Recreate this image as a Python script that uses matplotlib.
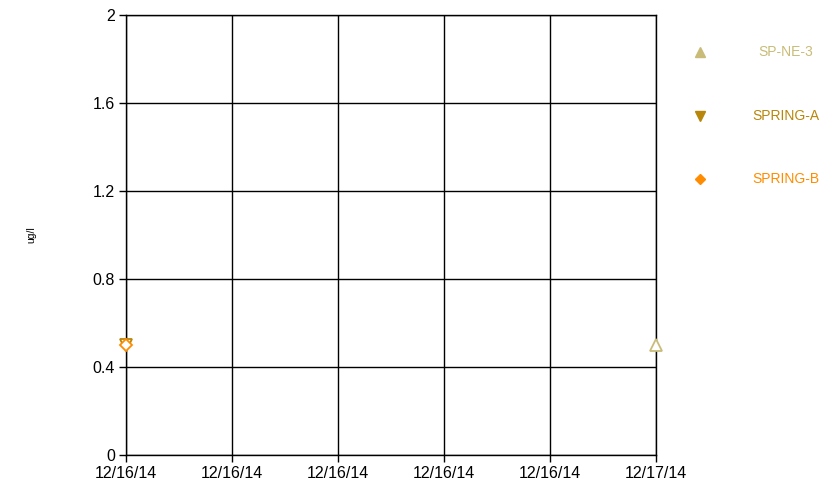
import matplotlib.pyplot as plt
from matplotlib.lines import Line2D

# Data (x = days after 12/16/14)
series_names = ["SP-NE-3", "SPRING-A", "SPRING-B"]
series_x = [[1.0], [0.0], [0.0]]
series_y = [[0.5], [0.5], [0.5]]
series_markers = ["^", "v", "D"]
series_colors = ["#C8BC78", "#B8860B", "#FF8C00"]
series_sizes = [8, 8, 6]

x_ticks = [0.0, 0.2, 0.4, 0.6, 0.8, 1.0]
x_tick_labels = ["12/16/14", "12/16/14", "12/16/14", "12/16/14", "12/16/14", "12/17/14"]
y_ticks = [0, 0.4, 0.8, 1.2, 1.6, 2.0]
y_tick_labels = ["0", "0.4", "0.8", "1.2", "1.6", "2"]

plt.rcParams["font.family"] = ["Liberation Sans", "DejaVu Sans"]

fig = plt.figure(figsize=(8.23, 4.86), dpi=100)
ax = fig.add_axes([126 / 823, 1 - 455 / 486, 530 / 823, 440 / 486])

for name, xs, ys, m, c, s in zip(series_names, series_x, series_y,
                                 series_markers, series_colors, series_sizes):
    ax.plot(xs, ys, linestyle="none", marker=m, markersize=s,
            markerfacecolor="white", markeredgecolor=c, markeredgewidth=1.3,
            clip_on=False, zorder=5)

ax.set_xlim(0, 1)
ax.set_ylim(0, 2)
ax.set_xticks(x_ticks)
ax.set_xticklabels(x_tick_labels)
ax.set_yticks(y_ticks)
ax.set_yticklabels(y_tick_labels)
ax.grid(True, color="black", linewidth=1)
ax.tick_params(axis="both", labelsize=11.5, length=5, width=1, direction="out",
               colors="black", pad=3)
for spine in ax.spines.values():
    spine.set_linewidth(1)
    spine.set_color("black")

ax.set_ylabel("ug/l", fontsize=7.5)
ax.yaxis.set_label_coords(-0.17, 0.5)

# Legend drawn to the right of the plot
legend_y = [52, 116, 179]
for name, m, c, s, ly in zip(series_names, series_markers, series_colors,
                             series_sizes, legend_y):
    yf = 1 - ly / 486
    fig.add_artist(Line2D([700 / 823], [yf], marker=m, markersize=s - 1,
                          color=c, linestyle="none",
                          transform=fig.transFigure))
    fig.text(786 / 823, yf, name, color=c, fontsize=10,
             ha="center", va="center")

fig.savefig("out.png", dpi=100)
